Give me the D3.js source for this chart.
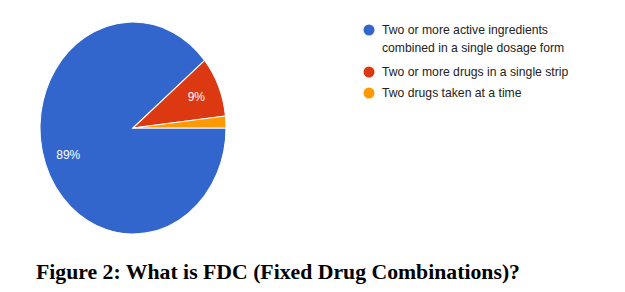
<!DOCTYPE html>
<html>
<head>
<meta charset="utf-8">
<script src="https://cdn.jsdelivr.net/npm/d3@7"></script>
<style>
  body { margin: 0; background: #fff; }
</style>
</head>
<body>
<div id="chart"></div>
<script>
// data
const categories = [
  "Two or more active ingredients combined in a single dosage form",
  "Two or more drugs in a single strip",
  "Two drugs taken at a time"
];
const values = [89, 9.2, 1.8];
const labels = ["89%", "9%", ""];
const colors = ["#3366cc", "#dc3912", "#ff9900"];
const legendLines = [
  ["Two or more active ingredients", "combined in a single dosage form"],
  ["Two or more drugs in a single strip"],
  ["Two drugs taken at a time"]
];
const title = "Figure 2: What is FDC (Fixed Drug Combinations)?";

const width = 625, height = 292;
const cx = 133, cy = 128, rx = 93, ry = 106;

const svg = d3.select("#chart")
  .append("svg")
    .attr("width", width)
    .attr("height", height);

const data = categories.map((c, i) => ({name: c, value: values[i], label: labels[i], color: colors[i]}));

const pie = d3.pie()
  .value(d => d.value)
  .sort(null)
  .startAngle(Math.PI / 2)
  .endAngle(Math.PI / 2 + 2 * Math.PI);

const arcs = pie(data);
const arc = d3.arc().innerRadius(0).outerRadius(rx);

// pie is drawn a bit taller than wide, like the picture
const g = svg.append("g")
  .attr("transform", `translate(${cx}, ${cy}) scale(1, ${ry / rx})`);

g.selectAll("path")
  .data(arcs)
  .join("path")
    .attr("d", arc)
    .attr("fill", d => d.data.color)
    .attr("stroke", "#fff")
    .attr("stroke-width", 1);

// slice labels (outside the scaled group so text is not stretched)
const labelArc = d3.arc().innerRadius(rx * 0.74).outerRadius(rx * 0.74);
svg.selectAll("text.slice")
  .data(arcs.filter(d => d.data.label))
  .join("text")
    .attr("class", "slice")
    .attr("x", d => cx + labelArc.centroid(d)[0])
    .attr("y", d => cy + labelArc.centroid(d)[1] * ry / rx)
    .attr("text-anchor", "middle")
    .attr("dominant-baseline", "central")
    .style("font-family", "Arial, 'Liberation Sans', sans-serif")
    .style("font-size", "12px")
    .attr("fill", "#fff")
    .text(d => d.data.label);

// legend
const legendY = [30, 72, 93];
const legend = svg.append("g");
legend.selectAll("circle")
  .data(data)
  .join("circle")
    .attr("cx", 369)
    .attr("cy", (d, i) => legendY[i])
    .attr("r", 5.5)
    .attr("fill", d => d.color);

legend.selectAll("text")
  .data(data)
  .join("text")
    .attr("x", 382)
    .attr("y", (d, i) => legendY[i])
    .style("font-family", "Arial, 'Liberation Sans', sans-serif")
    .style("font-size", "12.2px")
    .attr("fill", "#222")
    .each(function(d, i) {
      d3.select(this).selectAll("tspan")
        .data(legendLines[i])
        .join("tspan")
          .attr("x", 382)
          .attr("dy", (t, j) => j === 0 ? "0.35em" : "18px")
          .text(t => t);
    });

// caption
svg.append("text")
  .attr("x", 36)
  .attr("y", 279)
  .style("font-family", "'Liberation Serif', 'DejaVu Serif', serif")
  .style("font-weight", "bold")
  .style("font-size", "21.5px")
  .attr("textLength", 484)
  .attr("lengthAdjust", "spacingAndGlyphs")
  .attr("fill", "#000")
  .text(title);
</script>
</body>
</html>
